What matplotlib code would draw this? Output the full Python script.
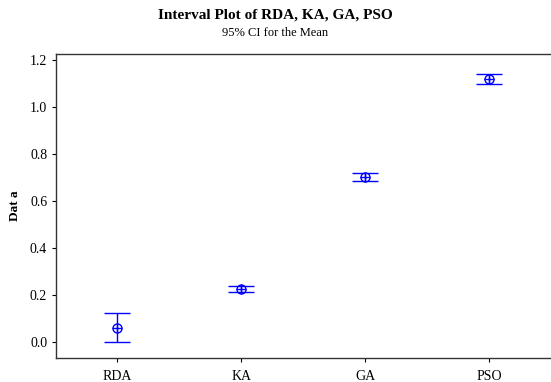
import matplotlib.pyplot as plt
import numpy as np

groups = ['RDA', 'KA', 'GA', 'PSO']
means = [0.060, 0.225, 0.702, 1.120]
ci_half = [0.062, 0.013, 0.018, 0.021]

plt.rcParams['font.family'] = ['Liberation Serif', 'DejaVu Serif']

fig = plt.figure(figsize=(5.51, 3.82), dpi=100)
ax = fig.add_axes([55.5 / 551, 1 - 358 / 382, (551 - 55.5) / 551, (358 - 53.5) / 382])

x = np.arange(1, len(groups) + 1)
ax.errorbar(x, means, yerr=ci_half, fmt='none', ecolor='#0000ff', elinewidth=1.0,
            capsize=9.5, capthick=1.0)
ax.plot(x, means, 'o', mfc='none', mec='#0000ff', ms=6.5, mew=1.0)
ax.plot(x, means, '+', color='#0000ff', ms=6.5, mew=1.0)

ax.set_xlim(0.5, 4.5)
ax.set_ylim(-0.069, 1.228)
ax.set_xticks(x)
ax.set_xticklabels(groups)
ax.set_yticks(np.arange(0, 1.21, 0.2))
ax.set_yticklabels(['%.1f' % v for v in np.arange(0, 1.21, 0.2)])
ax.tick_params(direction='out', length=3, width=0.8, labelsize=10, pad=3)
ax.tick_params(axis='x', pad=6)
for s in ax.spines.values():
    s.set_linewidth(1.0)
    s.set_color('#333333')
ax.spines['right'].set_visible(False)

ax.set_ylabel('Dat a', fontsize=9.5, fontweight='bold', labelpad=6)

fig.text(0.5, 1 - 15 / 382, 'Interval Plot of RDA, KA, GA, PSO', ha='center', va='center',
         fontsize=11, fontweight='bold')
fig.text(0.5, 1 - 33 / 382, '95% CI for the Mean', ha='center', va='center', fontsize=9)

fig.savefig('out.png', dpi=100)
